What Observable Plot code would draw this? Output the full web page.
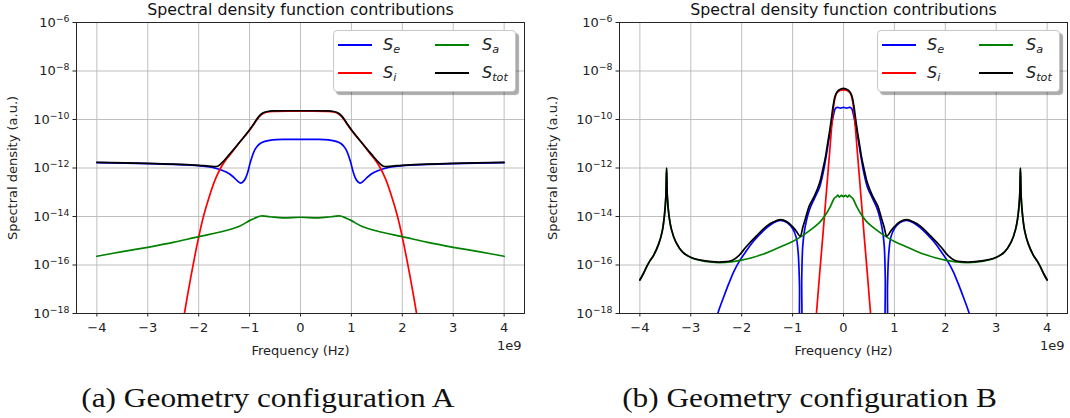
<!DOCTYPE html>
<html>
<head>
<meta charset="utf-8">
<script src="https://cdn.jsdelivr.net/npm/d3@7"></script>
<script src="https://cdn.jsdelivr.net/npm/@observablehq/plot@0.6"></script>
<style>
  html, body { margin: 0; padding: 0; background: #fff; }
  body { width: 1070px; height: 418px; position: relative; overflow: hidden; font-family: "DejaVu Sans", sans-serif; }
  .panel { position: absolute; top: 0; width: 535px; height: 360px; }
  .legend { position: absolute; top: 30px; width: 181px; height: 60px; background: #fff;
            border: 1px solid #c8c8c8; border-radius: 4px; box-shadow: 3px 3px 1px rgba(0,0,0,0.33); }
  .legend .ln { position: absolute; height: 2px; width: 34px; }
  .legend .lb { position: absolute; font-family: "DejaVu Sans", sans-serif; font-style: italic; font-size: 16px;
                line-height: 16px; color: #222; white-space: nowrap; }
  .legend .lb sub { font-size: 70%; vertical-align: -0.3em; line-height: 0; }
  .caption { position: absolute; top: 383px; width: 540px; text-align: center; font-family: "Liberation Serif", serif;
             font-size: 27px; line-height: 30px; color: #111; }
  .caption span { display: inline-block; transform: scaleX(1.16); transform-origin: center; white-space: nowrap; }
</style>
</head>
<body>
<div id="pa" class="panel" style="left:0px"></div>
<div id="pb" class="panel" style="left:535px"></div>
<script>
// ---------- text ----------
const titleText = "Spectral density function contributions";
const xLabelText = "Frequency (Hz)";
const yLabelText = "Spectral density (a.u.)";
const offsetText = "1e9";
const captionA = "(a) Geometry configuration A";
const captionB = "(b) Geometry configuration B";

// ---------- ticks ----------
const xTicks = [-4, -3, -2, -1, 0, 1, 2, 3, 4];           // units of 1e9 Hz
const yTicks = [1e-18, 1e-16, 1e-14, 1e-12, 1e-10, 1e-8, 1e-6];

// ---------- legend ----------
const seriesNames = ["S_e", "S_i", "S_a", "S_tot"];
const seriesColors = ["#0000ff", "#ff0000", "#008000", "#000000"];

// ---------- Panel A data (x in 1e9 Hz, values as log10 of spectral density) ----------
const xA_e = [-4, -3, -2.5, -2, -1.75, -1.6, -1.45, -1.33, -1.24, -1.17, -1.1, -1.04, -0.98, -0.89, -0.8, -0.7, -0.55, -0.3,
  0, 0.3, 0.55, 0.7, 0.8, 0.89, 0.98, 1.04, 1.1, 1.17, 1.24, 1.33, 1.45, 1.6, 1.75, 2, 2.5, 3, 4];
const logA_e = [-11.78, -11.82, -11.85, -11.9, -11.97, -12.05, -12.18, -12.35, -12.53, -12.62, -12.5, -12.2, -11.72, -11.22, -11.0, -10.9, -10.84, -10.82,
  -10.82, -10.82, -10.84, -10.9, -11.0, -11.22, -11.72, -12.2, -12.5, -12.62, -12.53, -12.35, -12.18, -12.05, -11.97, -11.9, -11.85, -11.82, -11.78];

const xA_i = [-2.5, -2.28, -2.15, -2.0, -1.9, -1.78, -1.67, -1.56, -1.45, -1.35, -1.2, -1.0, -0.9, -0.82, -0.75, -0.65, -0.5,
  0, 0.5, 0.65, 0.75, 0.82, 0.9, 1.0, 1.2, 1.35, 1.45, 1.56, 1.67, 1.78, 1.9, 2.0, 2.15, 2.28, 2.5];
const logA_i = [-21, -18, -16.45, -14.85, -13.95, -13.1, -12.45, -11.97, -11.62, -11.36, -10.95, -10.44, -10.14, -9.9, -9.77, -9.69, -9.665,
  -9.66, -9.665, -9.69, -9.77, -9.9, -10.14, -10.44, -10.95, -11.36, -11.62, -11.97, -12.45, -13.1, -13.95, -14.85, -16.45, -18, -21];

const xA_a = [-4, -3.5, -3, -2.5, -2, -1.5, -1.2, -1, -0.9, -0.78, -0.6, -0.35, 0, 0.35, 0.6, 0.78, 0.9, 1, 1.2, 1.5, 2, 2.5, 3, 3.5, 4];
const logA_a = [-15.64, -15.45, -15.27, -15.07, -14.83, -14.6, -14.4, -14.17, -14.07, -13.98, -14.01, -14.06, -14.03,
  -14.06, -14.01, -13.98, -14.07, -14.17, -14.4, -14.6, -14.83, -15.07, -15.27, -15.45, -15.64];

const xA_tot = [-4, -3, -2.5, -2, -1.8, -1.63, -1.55, -1.4, -1.2, -1.0, -0.9, -0.82, -0.75, -0.65, -0.5,
  0, 0.5, 0.65, 0.75, 0.82, 0.9, 1.0, 1.2, 1.4, 1.55, 1.63, 1.8, 2, 2.5, 3, 4];
const logA_tot = [-11.77, -11.81, -11.84, -11.89, -11.92, -11.93, -11.8, -11.45, -10.95, -10.42, -10.12, -9.88, -9.74, -9.67, -9.645,
  -9.64, -9.645, -9.67, -9.74, -9.88, -10.12, -10.42, -10.95, -11.45, -11.8, -11.93, -11.92, -11.89, -11.84, -11.81, -11.77];

// ---------- Panel B data ----------
const xB_e = [-2.6, -2.47, -2.35, -2.25, -2.15, -2.05, -1.92, -1.8, -1.65, -1.5, -1.38, -1.24, -1.11, -1.0, -0.93, -0.89, -0.865, -0.848, -0.835, -0.82,
  -0.8, -0.76, -0.67, -0.57, -0.47, -0.4, -0.34, -0.29, -0.24, -0.2, -0.16, -0.12, -0.06, 0,
  0.06, 0.12, 0.16, 0.2, 0.24, 0.29, 0.34, 0.4, 0.47, 0.57, 0.67, 0.76, 0.8,
  0.82, 0.835, 0.848, 0.865, 0.89, 0.93, 1.0, 1.11, 1.24, 1.38, 1.5, 1.65, 1.8, 1.92, 2.05, 2.15, 2.25, 2.35, 2.47, 2.6];
const logB_e = [-19, -18, -17.3, -16.75, -16.25, -15.86, -15.45, -15.1, -14.75, -14.45, -14.27, -14.16, -14.25, -14.5, -14.85, -15.5, -16.8, -19, -19, -16.5,
  -15.2, -14.5, -13.73, -13.25, -12.79, -12.2, -11.5, -10.85, -10.28, -9.85, -9.55, -9.5, -9.53, -9.5,
  -9.53, -9.5, -9.55, -9.85, -10.28, -10.85, -11.5, -12.2, -12.79, -13.25, -13.73, -14.5, -15.2,
  -16.5, -19, -19, -16.8, -15.5, -14.85, -14.5, -14.25, -14.16, -14.27, -14.45, -14.75, -15.1, -15.45, -15.86, -16.25, -16.75, -17.3, -18, -19];

const xB_i = [-0.62, -0.54, -0.47, -0.41, -0.35, -0.3, -0.26, -0.22, -0.18, -0.13, -0.07, 0, 0.07, 0.13, 0.18, 0.22, 0.26, 0.3, 0.35, 0.41, 0.47, 0.54, 0.62];
const logB_i = [-20, -18.2, -16.4, -14.9, -13.35, -12.06, -11.03, -10.0, -9.25, -8.9, -8.8, -8.78, -8.8, -8.9, -9.25, -10.0, -11.03, -12.06, -13.35, -14.9, -16.4, -18.2, -20];

const xB_a = [-4, -3.93, -3.866, -3.8, -3.73, -3.63, -3.56, -3.516, -3.49, -3.475, -3.46, -3.43, -3.38, -3.29, -3.16, -2.99, -2.72, -2.45,
  -2.2, -2.0, -1.8, -1.6, -1.4, -1.2, -1.0, -0.85, -0.62, -0.45, -0.34, -0.25, -0.18, -0.14, -0.11, -0.08, -0.04, 0,
  0.04, 0.08, 0.11, 0.14, 0.18, 0.25, 0.34, 0.45, 0.62, 0.85, 1.0, 1.2, 1.4, 1.6, 1.8, 2.0, 2.2,
  2.45, 2.72, 2.99, 3.16, 3.29, 3.38, 3.43, 3.46, 3.475, 3.49, 3.516, 3.56, 3.63, 3.73, 3.8, 3.866, 3.93, 4];
const logB_a = [-16.62, -16.35, -16.07, -15.82, -15.6, -15.13, -14.6, -13.93, -13.2, -12.0, -13.2, -13.93, -14.53, -15.07, -15.47, -15.7, -15.85, -15.9,
  -15.87, -15.8, -15.7, -15.57, -15.4, -15.22, -15.03, -14.85, -14.51, -14.2, -13.89, -13.55, -13.25, -13.18, -13.12, -13.2, -13.13, -13.18,
  -13.13, -13.2, -13.12, -13.18, -13.25, -13.55, -13.89, -14.2, -14.51, -14.85, -15.03, -15.22, -15.4, -15.57, -15.7, -15.8, -15.87,
  -15.9, -15.85, -15.7, -15.47, -15.07, -14.53, -13.93, -13.2, -12.0, -13.2, -13.93, -14.6, -15.13, -15.6, -15.82, -16.07, -16.35, -16.62];

const xB_tot = [-4, -3.93, -3.866, -3.8, -3.73, -3.63, -3.56, -3.516, -3.49, -3.475, -3.46, -3.43, -3.38, -3.29, -3.16, -2.99, -2.72, -2.45, -2.3, -2.18,
  -2.05, -1.92, -1.71, -1.51, -1.38, -1.24, -1.11, -1.0, -0.93, -0.85, -0.8, -0.75, -0.67, -0.57, -0.47, -0.41, -0.35, -0.31, -0.27, -0.24,
  -0.2, -0.16, -0.1, -0.05, 0,
  0.05, 0.1, 0.16, 0.2, 0.24, 0.27, 0.31, 0.35, 0.41, 0.47, 0.57, 0.67, 0.75, 0.8, 0.85, 0.93, 1.0, 1.11, 1.24, 1.38, 1.51, 1.71, 1.92, 2.05,
  2.18, 2.3, 2.45, 2.72, 2.99, 3.16, 3.29, 3.38, 3.43, 3.46, 3.475, 3.49, 3.516, 3.56, 3.63, 3.73, 3.8, 3.866, 3.93, 4];
const logB_tot = [-16.62, -16.35, -16.07, -15.82, -15.6, -15.13, -14.6, -13.93, -13.2, -12.0, -13.2, -13.93, -14.53, -15.07, -15.47, -15.69, -15.83, -15.88, -15.86, -15.8,
  -15.6, -15.27, -14.8, -14.4, -14.23, -14.13, -14.22, -14.42, -14.6, -14.81, -14.45, -14.1, -13.55, -13.15, -12.62, -12.1, -11.5, -10.97, -10.45, -10.0,
  -9.4, -9.0, -8.8, -8.74, -8.72,
  -8.74, -8.8, -9.0, -9.4, -10.0, -10.45, -10.97, -11.5, -12.1, -12.62, -13.15, -13.55, -14.1, -14.45, -14.81, -14.6, -14.42, -14.22, -14.13, -14.23, -14.4, -14.8, -15.27, -15.6,
  -15.8, -15.86, -15.88, -15.83, -15.69, -15.47, -15.07, -14.53, -13.93, -13.2, -12.0, -13.2, -13.93, -14.6, -15.13, -15.6, -15.82, -16.07, -16.35, -16.62];

// ---------- helpers ----------
const SVGNS = "http://www.w3.org/2000/svg";
function rows(xs, logs) { return xs.map((x, i) => ({x, y: Math.pow(10, logs[i])})); }
function fmtExp(d) { return "10^" + String(Math.round(Math.log10(d))).replace("-", "\u2212"); }
function fmtX(d) { return d < 0 ? "\u2212" + (-d) : String(d); }

function makePanel(el, series, opt) {
  const gridColor = "#b8b8b8";
  const marks = [
    Plot.ruleX(xTicks, {x: d => d, stroke: gridColor, strokeWidth: 0.9}),
    Plot.ruleY(yTicks, {y: d => d, stroke: gridColor, strokeWidth: 0.9})
  ];
  series.forEach((s, i) => {
    marks.push(Plot.line(s, {x: "x", y: "y", stroke: seriesColors[i], strokeWidth: 1.7, curve: "catmull-rom", clip: true}));
  });
  marks.push(Plot.frame({stroke: "#262626", strokeWidth: 1}));
  marks.push(Plot.text([titleText], {text: d => d, frameAnchor: "top", lineAnchor: "middle", dy: -13, fontSize: 15.8, fill: "#111"}));
  marks.push(Plot.text([xLabelText], {text: d => d, frameAnchor: "bottom", lineAnchor: "middle", dy: 37.5, fontSize: 13, fill: "#222"}));
  marks.push(Plot.text([offsetText], {text: d => d, frameAnchor: "bottom-right", lineAnchor: "middle", textAnchor: "end", dx: -3, dy: 32, fontSize: 13, fill: "#222"}));
  marks.push(Plot.text([yLabelText], {text: d => d, frameAnchor: "left", textAnchor: "middle", lineAnchor: "middle", dx: opt.ylabDx, rotate: -90, fontSize: 13, fill: "#222"}));

  const svg = Plot.plot({
    width: 535, height: 360,
    marginLeft: opt.ml, marginRight: opt.mr, marginTop: 22, marginBottom: 47,
    style: {fontFamily: "DejaVu Sans, sans-serif", fontSize: "13px", color: "#222", background: "transparent", overflow: "visible"},
    x: {domain: [-4.4, 4.4], ticks: xTicks, tickFormat: fmtX, tickSize: 3.5, tickPadding: 5.5, label: null},
    y: {type: "log", domain: [1e-18, 1e-6], ticks: yTicks, tickFormat: fmtExp, tickSize: 3.5, tickPadding: 3.5, label: null},
    marks
  });
  // superscript exponents on the y tick labels
  svg.querySelectorAll("text").forEach(t => {
    const m = /^10\^(.+)$/.exec(t.textContent);
    if (!m) return;
    t.textContent = "";
    const a = document.createElementNS(SVGNS, "tspan");
    a.textContent = "10";
    const b = document.createElementNS(SVGNS, "tspan");
    b.setAttribute("font-size", "0.72em");
    b.setAttribute("dy", "-0.55em");
    b.textContent = m[1];
    t.append(a, b);
  });
  el.appendChild(svg);

  // legend
  const lg = document.createElement("div");
  lg.className = "legend";
  lg.style.left = opt.legendLeft + "px";
  const colLine = [4, 101], colLab = [49, 148], rowY = [14, 42];
  seriesNames.forEach((name, i) => {
    const c = Math.floor(i / 2), r = i % 2;
    const ln = document.createElement("div");
    ln.className = "ln";
    ln.style.left = colLine[c] + "px";
    ln.style.top = (rowY[r] - 1) + "px";
    ln.style.background = seriesColors[i];
    const lb = document.createElement("div");
    lb.className = "lb";
    lb.style.left = colLab[c] + "px";
    lb.style.top = (rowY[r] - 8) + "px";
    const [base, sub] = name.split("_");
    lb.innerHTML = base + "<sub>" + sub + "</sub>";
    lg.append(ln, lb);
  });
  el.appendChild(lg);
}

makePanel(document.getElementById("pa"),
  [rows(xA_e, logA_e), rows(xA_i, logA_i), rows(xA_a, logA_a), rows(xA_tot, logA_tot)],
  {ml: 76, mr: 11, ylabDx: -63.5, legendLeft: 333});
makePanel(document.getElementById("pb"),
  [rows(xB_e, logB_e), rows(xB_i, logB_i), rows(xB_a, logB_a), rows(xB_tot, logB_tot)],
  {ml: 84, mr: 3, ylabDx: -67, legendLeft: 342});

// captions
[[captionA, 268], [captionB, 810]].forEach(([txt, cx]) => {
  const d = document.createElement("div");
  d.className = "caption";
  d.style.left = (cx - 270) + "px";
  const s = document.createElement("span");
  s.textContent = txt;
  d.appendChild(s);
  document.body.appendChild(d);
});
</script>
</body>
</html>
